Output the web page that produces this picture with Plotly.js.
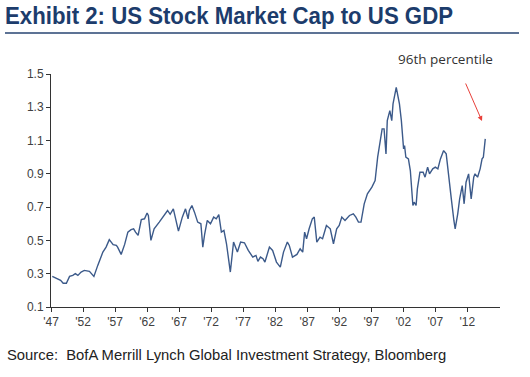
<!DOCTYPE html>
<html>
<head>
<meta charset="utf-8">
<script src="https://cdn.plot.ly/plotly-3.0.1.min.js"></script>
<style>html,body{margin:0;padding:0;background:#fff;}#chart{width:530px;height:377px;}</style>
</head>
<body>
<div id="chart"></div>
<script>
const years = [1947.2,1948.1,1948.5,1948.9,1949.4,1949.9,1950.4,1950.8,1951.2,1951.7,1952.2,1953.0,1953.7,1954.3,1955.1,1955.6,1956.1,1956.7,1957.2,1957.4,1957.95,1958.5,1959.0,1959.5,1959.9,1960.2,1960.6,1961.1,1961.6,1962.0,1962.2,1962.6,1963.1,1963.9,1964.7,1965.2,1965.6,1966.1,1966.9,1967.5,1968.0,1968.4,1968.6,1969.0,1969.4,1969.9,1970.4,1970.7,1971.0,1971.4,1971.9,1972.4,1972.8,1973.2,1973.6,1974.0,1974.4,1975.0,1975.5,1976.1,1976.6,1977.2,1977.8,1978.5,1979.0,1979.3,1979.7,1980.1,1980.4,1981.1,1981.6,1982.2,1982.8,1983.3,1983.9,1984.2,1984.7,1985.4,1985.9,1986.3,1986.6,1986.9,1987.3,1987.8,1988.1,1988.5,1989.0,1989.4,1990.0,1990.6,1991.1,1991.6,1992.0,1992.4,1992.9,1993.6,1994.2,1994.6,1995.0,1995.4,1995.9,1996.4,1997.1,1997.6,1998.0,1998.2,1998.7,1999.0,1999.3,1999.5,1999.9,2000.2,2000.4,2000.9,2001.4,2001.7,2002.05,2002.2,2002.4,2002.8,2003.1,2003.5,2003.7,2004.0,2004.2,2004.6,2005.1,2005.4,2005.8,2006.1,2006.6,2007.0,2007.4,2007.8,2008.3,2008.7,2009.1,2009.5,2009.9,2010.1,2010.5,2010.8,2011.2,2011.5,2011.8,2012.2,2012.6,2013.0,2013.2,2013.6,2014.0,2014.3,2014.5,2014.8];
const mktCapToGdp = [0.284,0.27,0.26,0.243,0.243,0.284,0.29,0.30,0.29,0.31,0.32,0.314,0.284,0.35,0.43,0.46,0.505,0.475,0.47,0.46,0.416,0.476,0.55,0.565,0.57,0.55,0.53,0.625,0.63,0.665,0.65,0.50,0.57,0.61,0.65,0.68,0.657,0.69,0.556,0.64,0.69,0.63,0.68,0.71,0.67,0.61,0.60,0.46,0.54,0.62,0.60,0.64,0.63,0.655,0.55,0.56,0.48,0.31,0.49,0.43,0.49,0.486,0.44,0.40,0.41,0.374,0.40,0.39,0.37,0.46,0.44,0.37,0.34,0.43,0.49,0.47,0.40,0.416,0.45,0.43,0.55,0.51,0.57,0.63,0.64,0.49,0.52,0.51,0.59,0.57,0.48,0.57,0.59,0.64,0.62,0.65,0.66,0.64,0.61,0.61,0.72,0.78,0.82,0.86,1.00,1.05,1.17,1.17,1.02,1.22,1.28,1.22,1.32,1.42,1.32,1.22,1.05,1.07,1.00,0.99,0.92,0.71,0.73,0.71,0.81,0.91,0.91,0.88,0.94,0.90,0.93,0.94,0.93,0.99,1.04,1.02,0.90,0.75,0.62,0.57,0.66,0.75,0.83,0.72,0.85,0.90,0.75,0.88,0.90,0.88,0.93,0.99,1.00,1.11];
const xTickVals = [1947,1952,1957,1962,1967,1972,1977,1982,1987,1992,1997,2002,2007,2012];
const xTickText = ["'47","'52","'57","'62","'67","'72","'77","'82","'87","'92","'97","'02","'07","'12"];
const yTickVals = [0.1,0.3,0.5,0.7,0.9,1.1,1.3,1.5];

const W = 530, H = 377, L = 51, R = 30, T = 74, B = 70;
const pw = W - L - R, ph = H - T - B;
const px = x => (x - L) / pw;
const py = y => (H - B - y) / ph;

const trace = {
  x: years, y: mktCapToGdp, type: 'scatter', mode: 'lines',
  line: {color: '#3c5a8a', width: 1.4}, hoverinfo: 'skip'
};

const layout = {
  width: W, height: H,
  margin: {l: L, r: R, t: T, b: B},
  paper_bgcolor: '#fff', plot_bgcolor: '#fff',
  showlegend: false,
  font: {family: 'Liberation Sans, Arial, sans-serif', size: 12, color: '#404040'},
  xaxis: {
    range: [1947, 2017.1], tickvals: xTickVals, ticktext: xTickText,
    showgrid: false, zeroline: false, showline: true, linecolor: '#333', linewidth: 1,
    ticks: 'outside', ticklen: 4, tickcolor: '#333',
    tickfont: {family: 'Liberation Sans, Arial, sans-serif', size: 12, color: '#404040'}
  },
  yaxis: {
    range: [0.1, 1.5], tickvals: yTickVals, tickformat: '.1f',
    showgrid: false, zeroline: false, showline: true, linecolor: '#333', linewidth: 1,
    ticks: 'outside', ticklen: 4, tickcolor: '#333',
    tickfont: {family: 'Liberation Sans, Arial, sans-serif', size: 12, color: '#404040'}
  },
  shapes: [
    {type: 'line', xref: 'paper', yref: 'paper', x0: px(5), x1: px(519), y0: py(33), y1: py(33),
     line: {color: '#5d7395', width: 2}}
  ],
  annotations: [
    {xref: 'paper', yref: 'paper', x: px(3), y: py(15), xanchor: 'left', yanchor: 'middle',
     text: 'Exhibit 2: US Stock Market Cap to US GDP', showarrow: false,
     font: {family: 'Liberation Sans, Arial, sans-serif', size: 24, color: '#1c3c6c', weight: 'bold'}},
    {xref: 'paper', yref: 'paper', x: px(5), y: py(355), xanchor: 'left', yanchor: 'middle',
     text: 'Source:\u00a0\u00a0BofA Merrill Lynch Global Investment Strategy, Bloomberg', showarrow: false,
     font: {family: 'Liberation Sans, Arial, sans-serif', size: 14.8, color: '#222'}},
    {xref: 'paper', yref: 'paper', x: px(445), y: py(59), xanchor: 'center', yanchor: 'middle',
     text: '96th percentile', showarrow: false,
     font: {family: 'Open Sans, Noto Sans, sans-serif', size: 13.5, color: '#333'}},
    {xref: 'paper', yref: 'paper', x: px(482), y: py(121), text: '', showarrow: true,
     axref: 'pixel', ayref: 'pixel', ax: -17, ay: -39,
     arrowhead: 2, arrowsize: 1, arrowwidth: 1, arrowcolor: '#e8403a'}
  ]
};

Plotly.newPlot('chart', [trace], layout, {staticPlot: true, displayModeBar: false}).then(gd => {
  // Condense the title text to mimic a narrow bold face, keeping its left edge
  const t = gd.querySelectorAll('text.annotation-text')[0];
  if (t) {
    const w = t.getComputedTextLength();
    const xc = parseFloat(t.getAttribute('x')) || 0;
    t.setAttribute('text-anchor', 'start');
    t.setAttribute('x', xc - w / 2);
    t.setAttribute('textLength', '448');
    t.setAttribute('lengthAdjust', 'spacingAndGlyphs');
  }
});
</script>
</body>
</html>
